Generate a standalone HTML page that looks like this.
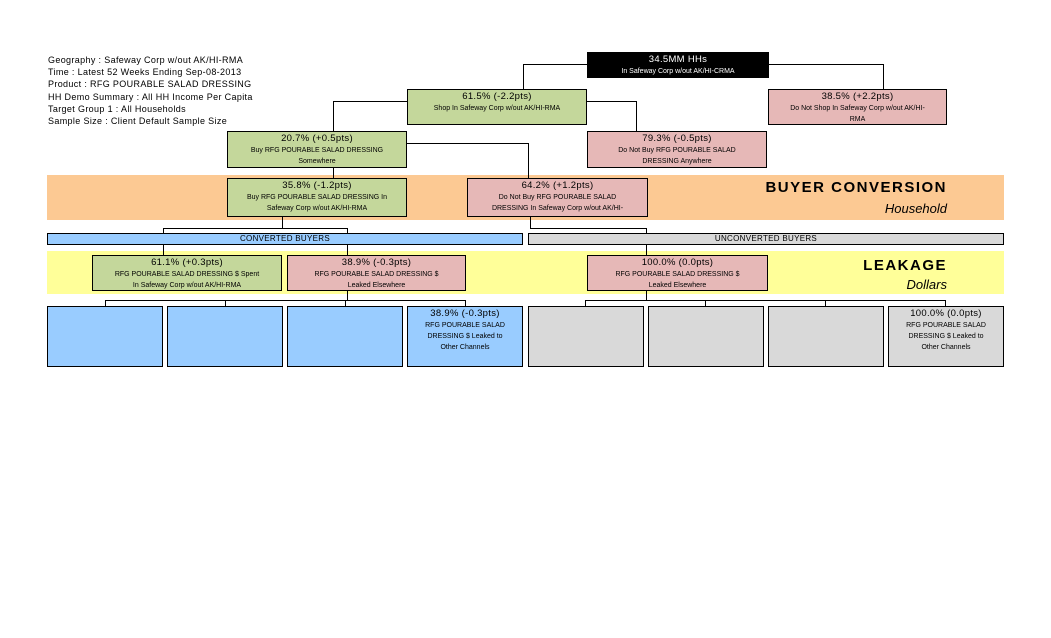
<!DOCTYPE html>
<html><head><meta charset="utf-8"><style>
body{margin:0;width:1051px;height:638px;background:#fff;position:relative;font-family:"Liberation Sans",sans-serif;overflow:hidden}
.a{position:absolute;box-sizing:border-box}
.b{position:absolute;box-sizing:border-box;border:1px solid #000;text-align:center;font-size:9.5px;line-height:12px;color:#000;padding-top:1px;letter-spacing:0.3px}
.b small{display:block;font-size:7px;line-height:11px;letter-spacing:0px}
.g{background:#c4d79b}.p{background:#e6b8b7}.bl{background:#99ccff}.gr{background:#d9d9d9}
.h{position:absolute;height:1px;background:#000}
.v{position:absolute;width:1px;background:#000}
.info{position:absolute;left:48px;top:54px;font-size:9px;line-height:12.2px;letter-spacing:0.35px}
</style></head><body>
<div class="info">Geography : Safeway Corp w/out AK/HI-RMA<br>Time : Latest 52 Weeks Ending Sep-08-2013<br>Product : RFG POURABLE SALAD DRESSING<br>HH Demo Summary : All HH Income Per Capita<br>Target Group 1 : All Households<br>Sample Size : Client Default Sample Size</div>

<div class="a" style="left:47px;top:175px;width:957px;height:45px;background:#fcc993"></div>
<div class="a" style="left:700px;top:179px;width:247px;text-align:right;font-size:15px;font-weight:bold;letter-spacing:1.5px">BUYER CONVERSION</div>
<div class="a" style="left:700px;top:201px;width:247px;text-align:right;font-size:13px;font-style:italic">Household</div>
<div class="a" style="left:47px;top:251px;width:957px;height:43px;background:#ffff99"></div>
<div class="a" style="left:800px;top:257px;width:147px;text-align:right;font-size:15px;font-weight:bold;letter-spacing:1.5px">LEAKAGE</div>
<div class="a" style="left:800px;top:277px;width:147px;text-align:right;font-size:13px;font-style:italic">Dollars</div>

<!-- connectors -->
<div class="h" style="left:523px;top:64px;width:360px"></div>
<div class="v" style="left:523px;top:64px;height:25px"></div>
<div class="v" style="left:883px;top:64px;height:25px"></div>
<div class="h" style="left:333px;top:101px;width:303px"></div>
<div class="v" style="left:333px;top:101px;height:30px"></div>
<div class="v" style="left:636px;top:101px;height:30px"></div>
<div class="h" style="left:407px;top:143px;width:121px"></div>
<div class="v" style="left:528px;top:143px;height:35px"></div>
<div class="v" style="left:333px;top:168px;height:10px"></div>
<div class="v" style="left:282px;top:217px;height:11px"></div>
<div class="h" style="left:163px;top:228px;width:184px"></div>
<div class="v" style="left:163px;top:228px;height:5px"></div>
<div class="v" style="left:347px;top:228px;height:5px"></div>
<div class="v" style="left:530px;top:217px;height:11px"></div>
<div class="h" style="left:530px;top:228px;width:116px"></div>
<div class="v" style="left:646px;top:228px;height:5px"></div>
<div class="v" style="left:163px;top:245px;height:10px"></div>
<div class="v" style="left:347px;top:245px;height:10px"></div>
<div class="v" style="left:646px;top:245px;height:10px"></div>
<div class="v" style="left:347px;top:291px;height:9px"></div>
<div class="h" style="left:105px;top:300px;width:361px"></div>
<div class="v" style="left:105px;top:300px;height:6px"></div>
<div class="v" style="left:225px;top:300px;height:6px"></div>
<div class="v" style="left:345px;top:300px;height:6px"></div>
<div class="v" style="left:465px;top:300px;height:6px"></div>
<div class="v" style="left:646px;top:291px;height:9px"></div>
<div class="h" style="left:585px;top:300px;width:361px"></div>
<div class="v" style="left:585px;top:300px;height:6px"></div>
<div class="v" style="left:705px;top:300px;height:6px"></div>
<div class="v" style="left:825px;top:300px;height:6px"></div>
<div class="v" style="left:945px;top:300px;height:6px"></div>

<!-- boxes -->
<div class="b" style="left:587px;top:52px;width:182px;height:26px;background:#000;color:#fff">34.5MM HHs<small>In Safeway Corp w/out AK/HI-CRMA</small></div>
<div class="b g" style="left:407px;top:89px;width:180px;height:36px">61.5% (-2.2pts)<small>Shop In Safeway Corp w/out AK/HI-RMA</small></div>
<div class="b p" style="left:768px;top:89px;width:179px;height:36px">38.5% (+2.2pts)<small>Do Not Shop In Safeway Corp w/out AK/HI-<br>RMA</small></div>
<div class="b g" style="left:227px;top:131px;width:180px;height:37px">20.7% (+0.5pts)<small>Buy RFG POURABLE SALAD DRESSING<br>Somewhere</small></div>
<div class="b p" style="left:587px;top:131px;width:180px;height:37px">79.3% (-0.5pts)<small>Do Not Buy RFG POURABLE SALAD<br>DRESSING Anywhere</small></div>
<div class="b g" style="left:227px;top:178px;width:180px;height:39px">35.8% (-1.2pts)<small>Buy RFG POURABLE SALAD DRESSING In<br>Safeway Corp w/out AK/HI-RMA</small></div>
<div class="b p" style="left:467px;top:178px;width:181px;height:39px">64.2% (+1.2pts)<small>Do Not Buy RFG POURABLE SALAD<br>DRESSING In Safeway Corp w/out AK/HI-</small></div>

<div class="b bl" style="left:47px;top:233px;width:476px;height:12px;font-size:8px;line-height:10px;padding:0">CONVERTED BUYERS</div>
<div class="b gr" style="left:528px;top:233px;width:476px;height:12px;font-size:8px;line-height:10px;padding:0">UNCONVERTED BUYERS</div>

<div class="b g" style="left:92px;top:255px;width:190px;height:36px">61.1% (+0.3pts)<small>RFG POURABLE SALAD DRESSING $ Spent<br>In Safeway Corp w/out AK/HI-RMA</small></div>
<div class="b p" style="left:287px;top:255px;width:179px;height:36px">38.9% (-0.3pts)<small>RFG POURABLE SALAD DRESSING $<br>Leaked Elsewhere</small></div>
<div class="b p" style="left:587px;top:255px;width:181px;height:36px">100.0% (0.0pts)<small>RFG POURABLE SALAD DRESSING $<br>Leaked Elsewhere</small></div>

<div class="b bl" style="left:47px;top:306px;width:116px;height:61px"></div>
<div class="b bl" style="left:167px;top:306px;width:116px;height:61px"></div>
<div class="b bl" style="left:287px;top:306px;width:116px;height:61px"></div>
<div class="b bl" style="left:407px;top:306px;width:116px;height:61px">38.9% (-0.3pts)<small>RFG POURABLE SALAD<br>DRESSING $ Leaked to<br>Other Channels</small></div>
<div class="b gr" style="left:528px;top:306px;width:116px;height:61px"></div>
<div class="b gr" style="left:648px;top:306px;width:116px;height:61px"></div>
<div class="b gr" style="left:768px;top:306px;width:116px;height:61px"></div>
<div class="b gr" style="left:888px;top:306px;width:116px;height:61px">100.0% (0.0pts)<small>RFG POURABLE SALAD<br>DRESSING $ Leaked to<br>Other Channels</small></div>
</body></html>
